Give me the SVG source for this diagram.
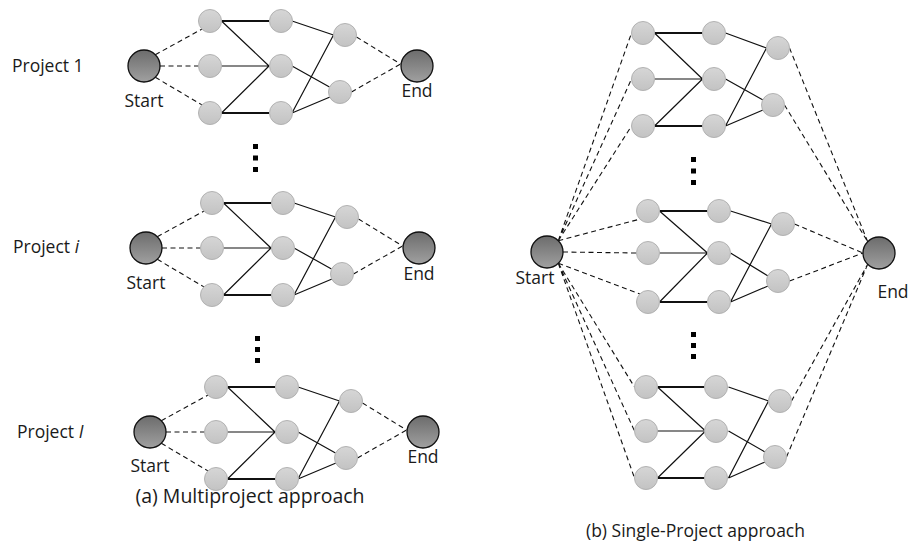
<svg xmlns="http://www.w3.org/2000/svg" width="909" height="542" viewBox="0 0 909 542">
<style>
.lbl{font-family:"Open Sans","Liberation Sans",sans-serif;font-size:17.5px;fill:#1a1a1a}
.mid{text-anchor:middle}
.node{fill:url(#gs);stroke:#b2b2b2;stroke-width:1}
.big{fill:url(#gb);stroke:#111;stroke-width:1.3}
.e{stroke:#111;stroke-width:1.2;fill:none}
.t{stroke:#111;stroke-width:2;fill:none}
.d{stroke:#111;stroke-width:1.1;stroke-dasharray:5 3.5;fill:none}
.dot{fill:#000}
</style>
<defs>
<linearGradient id="gs" x1="0" y1="0" x2="0" y2="1"><stop offset="0" stop-color="#d6d6d6"/><stop offset="1" stop-color="#c3c3c3"/></linearGradient>
<linearGradient id="gb" x1="0" y1="0" x2="0" y2="1"><stop offset="0" stop-color="#6c6c6c"/><stop offset="1" stop-color="#a0a0a0"/></linearGradient>
</defs>
<rect width="909" height="542" fill="#fff"/>

<g id="connectors">
  <!-- left projects, coordinates relative to Start -->
  <g transform="translate(144,66)">
    <path class="d" d="M11.3,-11.3L57.9,-36.9M16,0L54.5,0M11.3,11.3L57.9,38.9M212.5,-29L256.5,-2M207.5,26L256.5,-2"/>
    <path class="t" d="M77.5,-45L125,-45M77.5,47L125,47"/>
    <path class="e" d="M77.5,-45L125,0M77.5,0L125,0M77.5,47L125,0M148,-45L189.5,-31M148,0L185.5,21M148,47L189.5,-31M148,47L186,31"/>
  </g>
  <g transform="translate(146,248)">
    <path class="d" d="M11.3,-11.3L57.9,-36.9M16,0L54.5,0M11.3,11.3L57.9,38.9M212.5,-29L256.5,-2M207.5,26L256.5,-2"/>
    <path class="t" d="M77.5,-45L125,-45M77.5,47L125,47"/>
    <path class="e" d="M77.5,-45L125,0M77.5,0L125,0M77.5,47L125,0M148,-45L189.5,-31M148,0L185.5,21M148,47L189.5,-31M148,47L186,31"/>
  </g>
  <g transform="translate(150,432)">
    <path class="d" d="M11.3,-11.3L57.9,-36.9M16,0L54.5,0M11.3,11.3L57.9,38.9M212.5,-29L256.5,-2M207.5,26L256.5,-2"/>
    <path class="t" d="M77.5,-45L125,-45M77.5,47L125,47"/>
    <path class="e" d="M77.5,-45L125,0M77.5,0L125,0M77.5,47L125,0M148,-45L189.5,-31M148,0L185.5,21M148,47L189.5,-31M148,47L186,31"/>
  </g>
  <!-- right panel -->
  <path class="t" d="M654.5,33L702.5,33M654.5,126L702.5,126M659.5,211L707.5,211M659.5,302L707.5,302M657.5,387L705.5,387M657.5,478L705.5,478"/>
  <path class="e" d="M654.5,33L702.5,79M654.5,79L702.5,79M654.5,126L702.5,79M725.5,33L766.5,48M725.5,79L763,100M725.5,126L766.5,48M725.5,126L763,110"/>
  <path class="e" d="M659.5,211L707.5,253M659.5,253L707.5,253M659.5,302L707.5,253M730.5,211L771.5,224M730.5,253L768,276M730.5,302L771.5,224M730.5,302L768,286"/>
  <path class="e" d="M657.5,387L705.5,431M657.5,431L705.5,431M657.5,478L705.5,431M728.5,387L768.5,401M728.5,431L765,452M728.5,478L768.5,401M728.5,478L765,462"/>
  <path class="d" d="M558.3,240.7L631.5,33M558.3,240.7L631.5,79M558.3,240.7L631.5,126M558.3,240.7L639.9,219.1M563,252L636.5,253M558.3,263.3L639.9,293.9M558.3,263.3L634.5,387M558.3,263.3L634.5,431M558.3,263.3L634.5,478"/>
  <path class="d" d="M789.5,48L867.7,241.7M784.5,105L867.7,241.7M794.5,224L863,253M789.5,281L863,253M791.5,401L867.7,264.3M786.5,457L867.7,264.3"/>
</g>

<!-- Left: Project 1 -->
<g id="p1-start"><circle class="big" cx="144" cy="66" r="16"/><text class="lbl mid" x="144" y="107">Start</text></g>
<g id="p1-a1"><circle class="node" cx="210" cy="21" r="11.5"/></g>
<g id="p1-a2"><circle class="node" cx="210" cy="66" r="11.5"/></g>
<g id="p1-a3"><circle class="node" cx="210" cy="113" r="11.5"/></g>
<g id="p1-b1"><circle class="node" cx="281" cy="21" r="11.5"/></g>
<g id="p1-b2"><circle class="node" cx="281" cy="66" r="11.5"/></g>
<g id="p1-b3"><circle class="node" cx="281" cy="113" r="11.5"/></g>
<g id="p1-c1"><circle class="node" cx="345" cy="35" r="11.5"/></g>
<g id="p1-c2"><circle class="node" cx="340" cy="92" r="11.5"/></g>
<g id="p1-end"><circle class="big" cx="417" cy="66" r="16"/><text class="lbl mid" x="417" y="97">End</text></g>

<!-- Left: Project i -->
<g id="pi-start"><circle class="big" cx="146" cy="248" r="16"/><text class="lbl mid" x="146" y="289">Start</text></g>
<g id="pi-a1"><circle class="node" cx="212" cy="203" r="11.5"/></g>
<g id="pi-a2"><circle class="node" cx="212" cy="248" r="11.5"/></g>
<g id="pi-a3"><circle class="node" cx="212" cy="295" r="11.5"/></g>
<g id="pi-b1"><circle class="node" cx="283" cy="203" r="11.5"/></g>
<g id="pi-b2"><circle class="node" cx="283" cy="248" r="11.5"/></g>
<g id="pi-b3"><circle class="node" cx="283" cy="295" r="11.5"/></g>
<g id="pi-c1"><circle class="node" cx="347" cy="217" r="11.5"/></g>
<g id="pi-c2"><circle class="node" cx="342" cy="274" r="11.5"/></g>
<g id="pi-end"><circle class="big" cx="419" cy="248" r="16"/><text class="lbl mid" x="419" y="280">End</text></g>

<!-- Left: Project I -->
<g id="pI-start"><circle class="big" cx="150" cy="432" r="16"/><text class="lbl mid" x="150" y="472">Start</text></g>
<g id="pI-a1"><circle class="node" cx="216" cy="387" r="11.5"/></g>
<g id="pI-a2"><circle class="node" cx="216" cy="432" r="11.5"/></g>
<g id="pI-a3"><circle class="node" cx="216" cy="479" r="11.5"/></g>
<g id="pI-b1"><circle class="node" cx="287" cy="387" r="11.5"/></g>
<g id="pI-b2"><circle class="node" cx="287" cy="432" r="11.5"/></g>
<g id="pI-b3"><circle class="node" cx="287" cy="479" r="11.5"/></g>
<g id="pI-c1"><circle class="node" cx="351" cy="401" r="11.5"/></g>
<g id="pI-c2"><circle class="node" cx="346" cy="458" r="11.5"/></g>
<g id="pI-end"><circle class="big" cx="423" cy="432" r="16"/><text class="lbl mid" x="423" y="463">End</text></g>

<!-- Right panel -->
<g id="r-start"><circle class="big" cx="547" cy="252" r="16"/><text class="lbl mid" x="535" y="284">Start</text></g>
<g id="r-end"><circle class="big" cx="879" cy="253" r="16"/><text class="lbl mid" x="893" y="298">End</text></g>
<g id="rt-a1"><circle class="node" cx="643" cy="33" r="11.5"/></g>
<g id="rt-a2"><circle class="node" cx="643" cy="79" r="11.5"/></g>
<g id="rt-a3"><circle class="node" cx="643" cy="126" r="11.5"/></g>
<g id="rt-b1"><circle class="node" cx="714" cy="33" r="11.5"/></g>
<g id="rt-b2"><circle class="node" cx="714" cy="79" r="11.5"/></g>
<g id="rt-b3"><circle class="node" cx="714" cy="126" r="11.5"/></g>
<g id="rt-c1"><circle class="node" cx="778" cy="48" r="11.5"/></g>
<g id="rt-c2"><circle class="node" cx="773" cy="105" r="11.5"/></g>
<g id="rm-a1"><circle class="node" cx="648" cy="211" r="11.5"/></g>
<g id="rm-a2"><circle class="node" cx="648" cy="253" r="11.5"/></g>
<g id="rm-a3"><circle class="node" cx="648" cy="302" r="11.5"/></g>
<g id="rm-b1"><circle class="node" cx="719" cy="211" r="11.5"/></g>
<g id="rm-b2"><circle class="node" cx="719" cy="253" r="11.5"/></g>
<g id="rm-b3"><circle class="node" cx="719" cy="302" r="11.5"/></g>
<g id="rm-c1"><circle class="node" cx="783" cy="224" r="11.5"/></g>
<g id="rm-c2"><circle class="node" cx="778" cy="281" r="11.5"/></g>
<g id="rb-a1"><circle class="node" cx="646" cy="387" r="11.5"/></g>
<g id="rb-a2"><circle class="node" cx="646" cy="431" r="11.5"/></g>
<g id="rb-a3"><circle class="node" cx="646" cy="478" r="11.5"/></g>
<g id="rb-b1"><circle class="node" cx="716" cy="387" r="11.5"/></g>
<g id="rb-b2"><circle class="node" cx="716" cy="431" r="11.5"/></g>
<g id="rb-b3"><circle class="node" cx="716" cy="478" r="11.5"/></g>
<g id="rb-c1"><circle class="node" cx="780" cy="401" r="11.5"/></g>
<g id="rb-c2"><circle class="node" cx="775" cy="457" r="11.5"/></g>

<!-- ellipsis dots -->
<g id="dots">
  <rect class="dot" x="253" y="144" width="5" height="5"/><rect class="dot" x="253" y="155.5" width="5" height="5"/><rect class="dot" x="253" y="167" width="5" height="5"/>
  <rect class="dot" x="255" y="336" width="5" height="5"/><rect class="dot" x="255" y="347" width="5" height="5"/><rect class="dot" x="255" y="358" width="5" height="5"/>
  <rect class="dot" x="691" y="157" width="5" height="5"/><rect class="dot" x="691" y="168.5" width="5" height="5"/><rect class="dot" x="691" y="180" width="5" height="5"/>
  <rect class="dot" x="691" y="332" width="5" height="5"/><rect class="dot" x="691" y="343" width="5" height="5"/><rect class="dot" x="691" y="354" width="5" height="5"/>
</g>

<!-- labels -->
<g id="labels">
  <text class="lbl" x="12" y="72">Project 1</text>
  <text class="lbl" x="13" y="253">Project <tspan font-style="italic">i</tspan></text>
  <text class="lbl" x="17" y="438">Project <tspan font-style="italic">I</tspan></text>
  <text class="lbl mid" x="250" y="503" style="font-size:19.5px">(a) Multiproject approach</text>
  <text class="lbl mid" x="695.5" y="537">(b) Single-Project approach</text>
</g>
</svg>
